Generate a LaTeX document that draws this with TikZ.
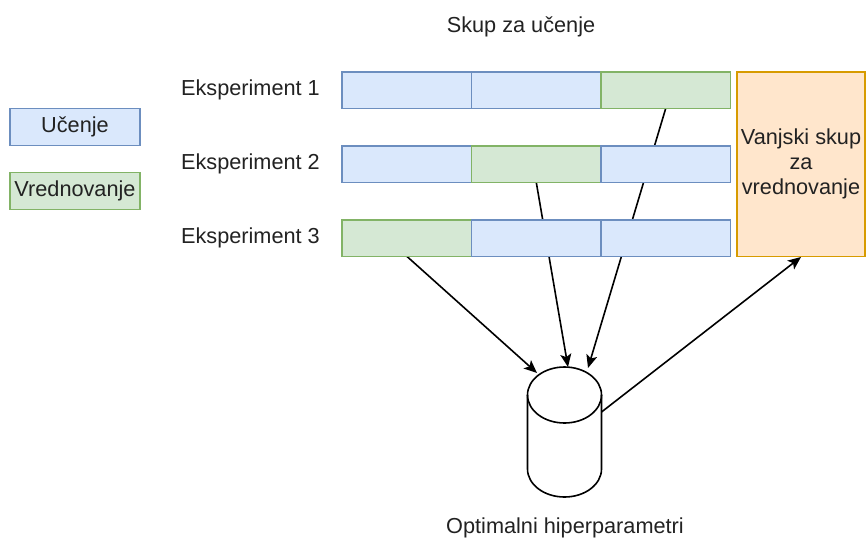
\documentclass[tikz,border=0pt]{standalone}
\usepackage{fontspec}
\setmainfont{Liberation Sans}
\usetikzlibrary{arrows.meta,backgrounds}
\definecolor{bfill}{HTML}{DAE8FC}\definecolor{bdraw}{HTML}{6C8EBF}
\definecolor{gfill}{HTML}{D5E8D4}\definecolor{gdraw}{HTML}{82B366}
\definecolor{ofill}{HTML}{FFE6CC}\definecolor{odraw}{HTML}{D79B00}
\definecolor{txt}{HTML}{222222}
\begin{document}
\begin{tikzpicture}[x=1pt,y=-1pt,
  font=\fontsize{21.7}{25}\selectfont, text=txt,
  cellbox/.style={line width=1.5pt, minimum width=129.5pt, minimum height=36.5pt, inner sep=0pt, outer sep=0pt, anchor=west},
  ucell/.style={cellbox, fill=bfill, draw=bdraw},
  vcell/.style={cellbox, fill=gfill, draw=gdraw},
  lbl/.style={anchor=east, inner sep=0pt},
  conn/.style={line width=1.6pt, draw=black, -{Stealth[length=13pt,width=11pt,inset=3pt]}}]
\useasboundingbox (0,0) rectangle (866,543);

% title
\node (title) at (521,27) {Skup za učenje};

% legend
\node[ucell, anchor=center, minimum width=130pt, minimum height=37pt] (legu) at (75,127) {Učenje};
\node[vcell, anchor=center, minimum width=130pt, minimum height=37pt] (legv) at (75,191) {Vrednovanje};

% experiment labels
\node[lbl] (e1) at (320,90) {Eksperiment 1};
\node[lbl] (e2) at (320,164) {Eksperiment 2};
\node[lbl] (e3) at (320,238) {Eksperiment 3};

% row 1
\node[ucell] (r1a) at (342,90) {};
\node[ucell] (r1b) at (471.5,90) {};
\node[vcell] (r1c) at (601,90) {};
% row 2
\node[ucell] (r2a) at (342,164) {};
\node[vcell] (r2b) at (471.5,164) {};
\node[ucell] (r2c) at (601,164) {};
% row 3
\node[vcell] (r3a) at (342,238) {};
\node[ucell] (r3b) at (471.5,238) {};
\node[ucell] (r3c) at (601,238) {};

% outer validation set
\node[draw=odraw, fill=ofill, line width=1.5pt, minimum width=128pt, minimum height=184.5pt,
      inner sep=0pt, align=center] (vs) at (801,164) {Vanjski skup\\za\\vrednovanje};

% cylinder
\node[minimum width=74pt, minimum height=130pt, inner sep=0pt] (cyl) at (564.5,432) {};
\draw[line width=1.6pt] (527.5,395) -- (527.5,469)
   arc[start angle=180, end angle=360, x radius=37pt, y radius=28pt] -- (601.5,395);
\draw[line width=1.6pt] (564.5,395) ellipse [x radius=37pt, y radius=28pt];
\node (opt) at (565,528) {Optimalni hiperparametri};

\coordinate (c1) at (537,373);
\coordinate (c2) at (568,367);
\coordinate (c3) at (588,368);
\coordinate (c4) at (601.5,412);

\begin{scope}[on background layer]
\draw[conn] (r3a.south) -- (c1);
\draw[conn] (r2b.south) -- (c2);
\draw[conn] (r1c.south) -- (c3);
\end{scope}
\draw[conn] (c4) -- (vs.south);
\end{tikzpicture}
\end{document}
